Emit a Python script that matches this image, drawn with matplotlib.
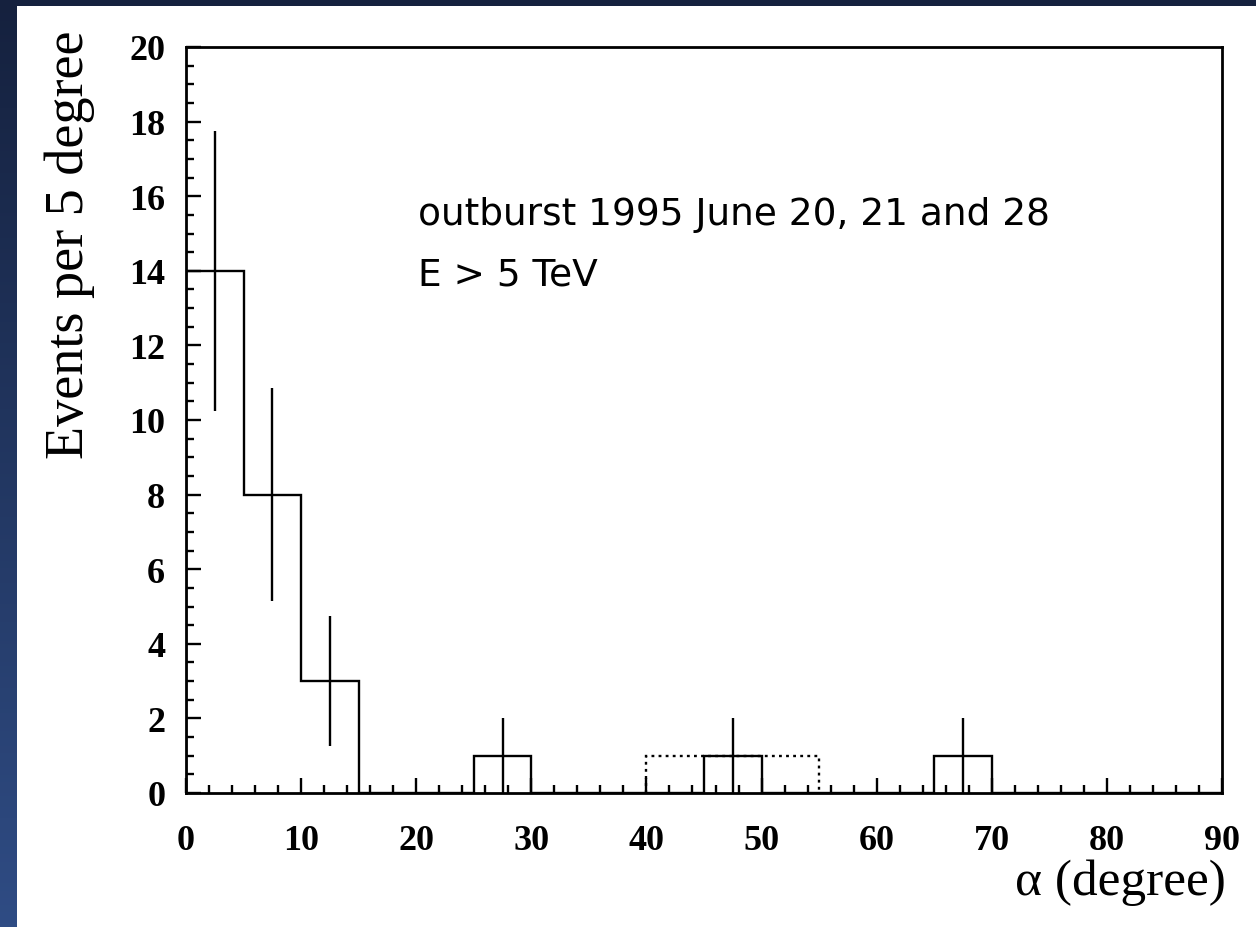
import matplotlib
matplotlib.use("Agg")
import matplotlib.pyplot as plt
import numpy as np
from matplotlib.colors import LinearSegmentedColormap
from matplotlib.ticker import MultipleLocator

# histogram of alpha, 5 degree bins
bin_edges = [0, 5, 10, 15, 20, 25, 30, 35, 40, 45, 50, 55, 60, 65, 70, 75, 80, 85, 90]
counts = [14, 8, 3, 0, 0, 1, 0, 0, 0, 1, 0, 0, 0, 1, 0, 0, 0, 0]

# error bars (only drawn for filled bins)
err_x = [2.5, 7.5, 12.5, 27.5, 47.5, 67.5]
err_y = [14, 8, 3, 1, 1, 1]
err_size = [3.75, 2.85, 1.75, 1.0, 1.0, 1.0]

# dotted background estimate
bg_edges = [40, 45, 50, 55]
bg_counts = [1, 1, 1]

W, H = 1256, 928
fig = plt.figure(figsize=(W / 100, H / 100), dpi=100)

# blue gradient frame behind a white page
bg_ax = fig.add_axes([0, 0, 1, 1], zorder=-10)
grad = np.linspace(0, 1, 256).reshape(-1, 1)
cmap = LinearSegmentedColormap.from_list("frame", ["#15213e", "#2f4c84"])
bg_ax.imshow(grad, aspect="auto", cmap=cmap, extent=[0, 1, 0, 1], origin="upper")
bg_ax.add_patch(plt.Rectangle((17 / W, 0), 1, 1 - 7 / H, color="white", lw=0))
bg_ax.set_xlim(0, 1)
bg_ax.set_ylim(0, 1)
bg_ax.axis("off")

ax = fig.add_axes([186 / W, 134 / H, (1222 - 186) / W, (794 - 48) / H])
ax.patch.set_alpha(0)

ax.stairs(counts, bin_edges, baseline=0, color="black", lw=1.7)
ax.stairs(bg_counts, bg_edges, baseline=0, color="black", lw=1.7, ls=(0, (1.2, 1.8)))
ax.errorbar(err_x, err_y, yerr=err_size, fmt="none", ecolor="black", elinewidth=1.7, capsize=0)

ax.set_xlim(0, 90)
ax.set_ylim(0, 20)
ax.xaxis.set_major_locator(MultipleLocator(10))
ax.xaxis.set_minor_locator(MultipleLocator(2))
ax.yaxis.set_major_locator(MultipleLocator(2))
ax.yaxis.set_minor_locator(MultipleLocator(0.5))
ax.tick_params(which="both", direction="in", width=1.7, top=False, right=False)
ax.tick_params(which="major", length=11)
ax.tick_params(which="minor", length=6)
ax.tick_params(axis="x", pad=22)
ax.tick_params(axis="y", pad=15)
for sp in ax.spines.values():
    sp.set_linewidth(2.0)

for lab in ax.get_xticklabels() + ax.get_yticklabels():
    lab.set_fontfamily("Liberation Serif")
    lab.set_fontweight("bold")
    lab.set_fontsize(26)

ax.set_ylabel("Events per 5 degree", family="Liberation Serif", fontsize=39, loc="top")
ax.yaxis.set_label_coords(-0.088, 1.024)
ax.set_xlabel("\u03b1 (degree)", family="Liberation Serif", fontsize=37, loc="right")
ax.xaxis.set_label_coords(1.004, -0.088)

fig.text(418 / W, 1 - 215 / H, "outburst 1995 June 20, 21 and 28",
         family="DejaVu Sans", fontsize=27, va="center", ha="left")
fig.text(418 / W, 1 - 276 / H, "E > 5 TeV",
         family="DejaVu Sans", fontsize=27, va="center", ha="left")

fig.savefig("out.png", dpi=100)
